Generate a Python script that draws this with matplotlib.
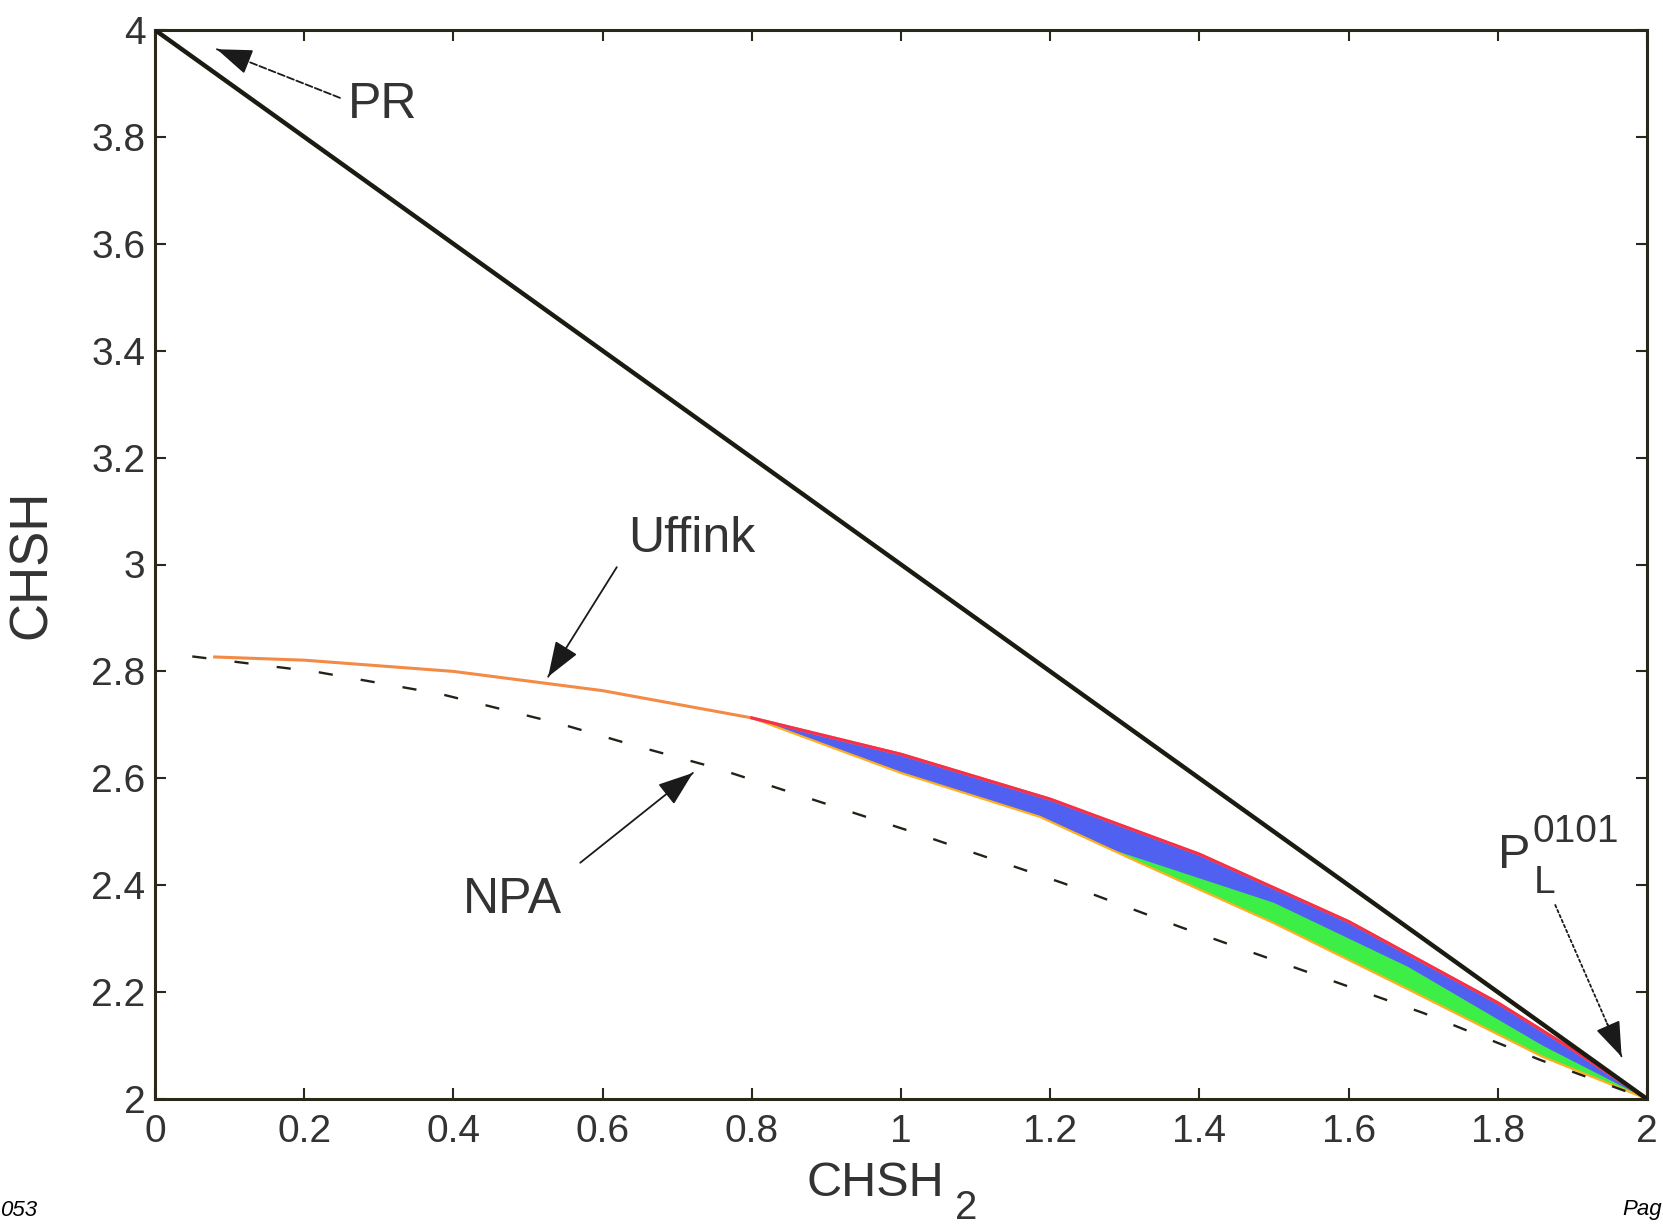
import matplotlib
matplotlib.use('Agg')
import numpy as np
import matplotlib.pyplot as plt

plt.rcParams['font.family'] = ['Liberation Sans', 'DejaVu Sans']

# values
x_ticks = [0, 0.2, 0.4, 0.6, 0.8, 1.0, 1.2, 1.4, 1.6, 1.8, 2.0]
x_labels = ['0', '0.2', '0.4', '0.6', '0.8', '1', '1.2', '1.4', '1.6', '1.8', '2']
y_ticks = [2.0, 2.2, 2.4, 2.6, 2.8, 3.0, 3.2, 3.4, 3.6, 3.8, 4.0]
y_labels = ['2', '2.2', '2.4', '2.6', '2.8', '3', '3.2', '3.4', '3.6', '3.8', '4']

pr_x = [0.0, 2.0]
pr_y = [4.0, 2.0]

uffink_x = [0.08, 0.2, 0.4, 0.6, 0.8, 1.0, 1.2, 1.4, 1.6, 1.8, 1.9, 2.0]
uffink_y = [2.827, 2.821, 2.800, 2.764, 2.713, 2.645, 2.561, 2.458, 2.332, 2.180, 2.093, 2.0]

npa_x = [0.05, 0.217, 0.382, 0.543, 0.641, 0.748, 1.008, 1.217, 1.374, 1.544, 1.700, 1.857, 2.0]
npa_y = [2.828, 2.799, 2.758, 2.702, 2.662, 2.621, 2.503, 2.404, 2.322, 2.238, 2.161, 2.073, 2.0]

band_top_x = [0.8, 1.0, 1.2, 1.4, 1.6, 1.8, 1.9, 2.0]
band_top_y = [2.713, 2.645, 2.561, 2.458, 2.332, 2.180, 2.093, 2.0]
band_low_x = [0.8, 1.0, 1.186, 1.32, 1.5, 1.68, 1.86, 2.0]
band_low_y = [2.713, 2.610, 2.528, 2.442, 2.329, 2.205, 2.079, 2.0]
green_top_x = [1.28, 1.5, 1.68, 1.86, 2.0]
green_top_y = [2.468, 2.367, 2.247, 2.100, 2.0]
green_low_x = [1.28, 1.32, 1.5, 1.68, 1.86, 2.0]
green_low_y = [2.468, 2.442, 2.329, 2.205, 2.079, 2.0]

fig = plt.figure(figsize=(16.63, 12.30), dpi=100)
ax = fig.add_axes([155 / 1663, 1 - 1099 / 1230, 1492 / 1663, 1069 / 1230])

axis_col = '#2a2818'
text_col = '#333333'

# colored region
ax.fill(np.r_[band_top_x, band_low_x[::-1]], np.r_[band_top_y, band_low_y[::-1]],
        color='#5061f2', lw=0, zorder=2)
ax.fill(np.r_[green_top_x, green_low_x[::-1]], np.r_[green_top_y, green_low_y[::-1]],
        color='#3cee46', lw=0, zorder=2)
ax.plot(band_low_x, band_low_y, color='#ffb020', lw=1.6, zorder=3)

# bounds
ax.plot(npa_x, npa_y, color='#222218', lw=1.7, ls=(0, (6, 12)), zorder=3)
ax.plot(uffink_x, uffink_y, color='#f38a45', lw=2.2, zorder=4)
ax.plot(band_top_x, band_top_y, color='#f5304e', lw=2.2, zorder=4)
ax.plot(pr_x, pr_y, color='#1c1b12', lw=3.2, zorder=5)

ax.set_xlim(0, 2)
ax.set_ylim(2, 4)
ax.set_xticks(x_ticks)
ax.set_xticklabels(x_labels)
ax.set_yticks(y_ticks)
ax.set_yticklabels(y_labels)
ax.tick_params(direction='in', length=8, width=1.5, colors=axis_col,
               labelcolor=text_col, labelsize=28, top=True, right=True)
ax.tick_params(axis='x', pad=11)
ax.tick_params(axis='y', pad=7)
for s in ax.spines.values():
    s.set_linewidth(2.2)
    s.set_color(axis_col)

ax.set_xlabel('CHSH', fontsize=35, color=text_col)
ax.xaxis.set_label_coords(0.4826, -0.058)
fig.text(955 / 1663, 1 - 1219 / 1230, '2', fontsize=29, color=text_col,
         ha='left', va='baseline')
ax.set_ylabel('CHSH', fontsize=38, color=text_col)
ax.yaxis.set_label_coords(-0.066, 0.5)


def arrow(tip, tail, ls='-'):
    # shaft first, then a short solid piece carrying the filled head
    ax.annotate('', xy=tip, xytext=tail,
                arrowprops=dict(arrowstyle='-', color='#1a1a1a', lw=1.3, ls=ls,
                                shrinkA=0, shrinkB=0))
    near = (tip[0] + 0.22 * (tail[0] - tip[0]), tip[1] + 0.22 * (tail[1] - tip[1]))
    ax.annotate('', xy=tip, xytext=near,
                arrowprops=dict(arrowstyle='-|>,head_length=0.55,head_width=0.2',
                                mutation_scale=40, color='#1a1a1a', lw=1.3,
                                shrinkA=0, shrinkB=0))


arrow((0.083, 3.964), (0.248, 3.873), ls=(0, (4, 1.5)))
ax.text(0.259, 3.835, 'PR', fontsize=36, color=text_col, ha='left', va='baseline')

arrow((0.527, 2.790), (0.619, 2.995))
ax.text(0.634, 3.023, 'Uffink', fontsize=36, color=text_col, ha='left', va='baseline')

arrow((0.721, 2.610), (0.570, 2.442))
ax.text(0.413, 2.348, 'NPA', fontsize=36, color=text_col, ha='left', va='baseline')

arrow((1.966, 2.079), (1.877, 2.363), ls=(0, (1.5, 1.5)))
ax.text(1.800, 2.432, 'P', fontsize=35, color=text_col, ha='left', va='baseline')
ax.text(1.846, 2.481, '0101', fontsize=28, color=text_col, ha='left', va='baseline')
ax.text(1.848, 2.385, 'L', fontsize=28, color=text_col, ha='left', va='baseline')

# page footer fragments
fig.text(0.0, 1 - 1210 / 1230, '053', fontsize=16, style='italic', ha='left', va='center')
fig.text(1622 / 1663, 1 - 1210 / 1230, 'Pag', fontsize=16, style='italic', ha='left', va='center')

fig.savefig('out.png', dpi=100)
